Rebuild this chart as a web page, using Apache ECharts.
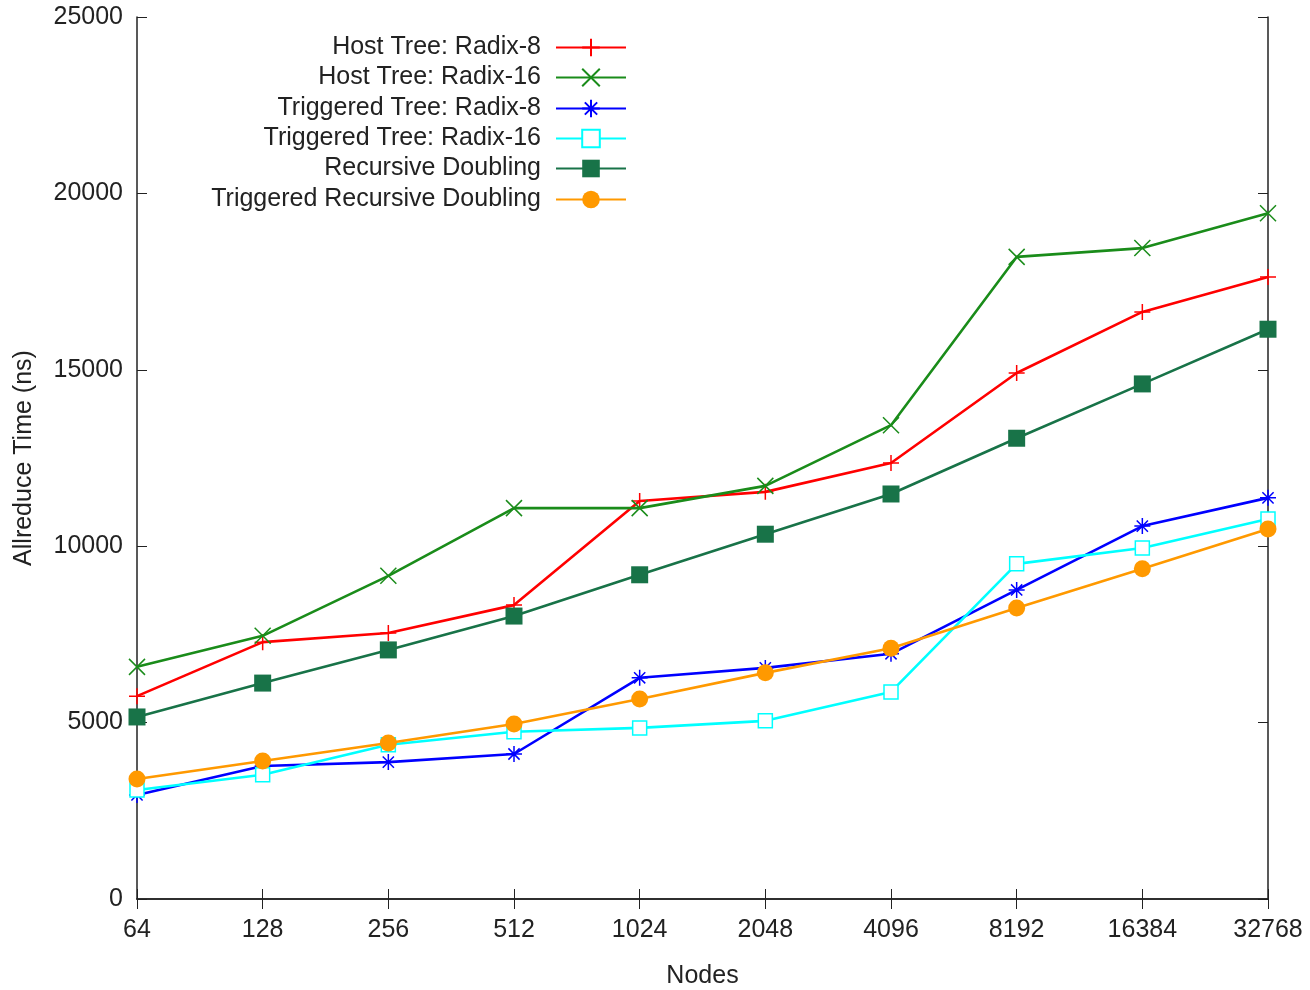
<!DOCTYPE html>
<html><head><meta charset="utf-8">
<script src="https://cdn.jsdelivr.net/npm/echarts@6/dist/echarts.min.js"></script>
<style>html,body{margin:0;padding:0;background:#fff}#c{width:1310px;height:990px}</style>
</head><body><div id="c"></div>
<script>
const categories = ['64','128','256','512','1024','2048','4096','8192','16384','32768'];
const yTicks = [0, 5000, 10000, 15000, 20000, 25000];
const seriesNames = ['Host Tree: Radix-8','Host Tree: Radix-16','Triggered Tree: Radix-8','Triggered Tree: Radix-16','Recursive Doubling','Triggered Recursive Doubling'];
const hostRadix8 = [5750, 7280, 7540, 8330, 11280, 11540, 12360, 14910, 16640, 17630];
const hostRadix16 = [6580, 7460, 9160, 11080, 11080, 11710, 13430, 18200, 18450, 19440];
const trigRadix8 = [2950, 3770, 3880, 4110, 6270, 6550, 6950, 8760, 10570, 11370];
const trigRadix16 = [3090, 3520, 4370, 4740, 4850, 5050, 5870, 9500, 9950, 10770];
const recDoubling = [5160, 6120, 7060, 8020, 9190, 10340, 11480, 13060, 14600, 16150];
const trigRecDoubling = [3400, 3910, 4420, 4960, 5670, 6410, 7110, 8250, 9360, 10490];

const font = 'Liberation Sans, Arial, sans-serif';
const colors = ['#ff0000', '#1a8c1a', '#0000ff', '#00ffff', '#187348', '#ff9900'];
const plusPath = 'path://M0,5L10,5M5,0L5,10';
const crossPath = 'path://M0,0L10,10M0,10L10,0';
const starPath = 'path://M0,5L10,5M5,0L5,10M1.5,1.5L8.5,8.5M1.5,8.5L8.5,1.5';
const datas = [hostRadix8, hostRadix16, trigRadix8, trigRadix16, recDoubling, trigRecDoubling];
const symbols = [plusPath, crossPath, starPath, 'rect', 'rect', 'circle'];
const sizes = [16, 16, 16, 14, 17, 17];

const series = datas.map((d, i) => {
  const stroke = i < 3;
  const hollow = i === 3;
  return {
    name: seriesNames[i], type: 'line', data: d,
    symbol: symbols[i], symbolSize: sizes[i], showAllSymbol: true,
    lineStyle: { color: colors[i], width: 2.6 },
    itemStyle: {
      color: stroke ? colors[i] : (hollow ? '#ffffff' : colors[i]),
      borderColor: colors[i],
      borderWidth: (stroke || hollow) ? 1.5 : 0
    },
    emphasis: { disabled: true },
    z: 2 + i
  };
});

const legendCenters = [46, 76, 107, 137, 167, 198];
const legends = seriesNames.map((n, i) => ({
  data: [n], right: 678, top: legendCenters[i] - 16, align: 'right',
  itemWidth: 70, itemHeight: 22, selectedMode: false,
  textStyle: { fontFamily: font, fontSize: 25, color: '#222', padding: [0, 10, 0, 0] }
}));

const axisCommonLine = { show: true, lineStyle: { color: '#222', width: 1.5 } };
const chart = echarts.init(document.getElementById('c'));
chart.setOption({
  backgroundColor: '#fff',
  animation: false,
  legend: legends,
  grid: { left: 137, right: 42, top: 17, bottom: 91, containLabel: false, outerBoundsMode: 'none' },
  xAxis: [{
    type: 'category', data: categories, boundaryGap: false,
    name: 'Nodes', nameLocation: 'middle', nameGap: 65,
    nameTextStyle: { fontFamily: font, fontSize: 25, color: '#222' },
    axisLine: axisCommonLine,
    axisTick: { inside: true, length: 10, lineStyle: { color: '#222', width: 1 } },
    axisLabel: { fontFamily: font, fontSize: 25, color: '#222', margin: 19, interval: 0 },
    splitLine: { show: false }
  }, {
    type: 'category', data: categories, boundaryGap: false, position: 'top',
    axisLine: axisCommonLine,
    axisTick: { inside: true, length: 10, lineStyle: { color: '#222', width: 1 } },
    axisLabel: { show: false }, splitLine: { show: false }
  }],
  yAxis: [{
    type: 'value', min: 0, max: 25000, interval: 5000,
    name: 'Allreduce Time (ns)', nameLocation: 'middle', nameGap: 100,
    nameTextStyle: { fontFamily: font, fontSize: 25, color: '#222' },
    axisLine: axisCommonLine,
    axisTick: { show: true, inside: true, length: 10, lineStyle: { color: '#222', width: 1 } },
    axisLabel: { fontFamily: font, fontSize: 25, color: '#222', margin: 14,
      formatter: v => yTicks.includes(v) ? String(v) : '' },
    splitLine: { show: false }
  }, {
    type: 'value', min: 0, max: 25000, interval: 5000, position: 'right',
    axisLine: axisCommonLine,
    axisTick: { show: true, inside: true, length: 10, lineStyle: { color: '#222', width: 1 } },
    axisLabel: { show: false }, splitLine: { show: false }
  }],
  series: series
});
</script></body></html>
